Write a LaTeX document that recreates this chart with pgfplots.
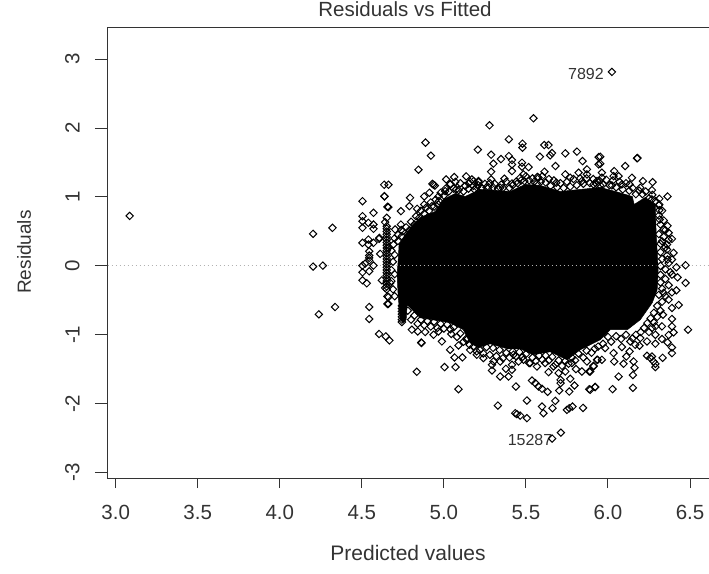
\documentclass[border=0pt]{standalone}
\usepackage{pgfplots}
\pgfplotsset{compat=1.18}
\usepackage{fontspec}
\setmainfont{Liberation Sans}
\definecolor{ink}{gray}{0.2}
\begin{document}
\begin{tikzpicture}[x=1pt,y=1pt]
\path[use as bounding box] (0,0) rectangle (709,573);
\begin{axis}[
  at={(107.5pt,94.3pt)},anchor=south west,
  scale only axis,width=603.5pt,height=451.2pt,
  xmin=2.9500,xmax=6.628,ymin=-3.087,ymax=3.458,
  clip=false,
  axis line style={ink,line width=1pt},
  tick style={ink,line width=1pt},
  tick align=outside,
  xtick={3,3.5,4,4.5,5,5.5,6,6.5},
  xticklabels={3.0,3.5,4.0,4.5,5.0,5.5,6.0,6.5},
  ytick={-3,-2,-1,0,1,2,3},
  yticklabels={-3,-2,-1,0,1,2,3},
  xtick pos=bottom,ytick pos=left,
  x tick style={/pgfplots/major tick length=9.5pt},
  y tick style={/pgfplots/major tick length=12.7pt},
  tick label style={font=\fontsize{20.5}{21}\selectfont,text=ink},
  xticklabel style={yshift=-19pt},
  yticklabel style={rotate=90,anchor=south,yshift=20pt},
  title={Residuals vs Fitted},
  title style={at={(axis description cs:0.493,1.0277)},anchor=center,font=\fontsize{20.5}{21}\selectfont,text=ink},
  xlabel={Predicted values},
  xlabel style={at={(axis description cs:0.498,-0.1647)},anchor=center,font=\fontsize{21}{22}\selectfont,text=ink},
  ylabel={Residuals},
  ylabel style={at={(axis description cs:-0.1384,0.5024)},anchor=center,rotate=0,font=\fontsize{19}{20}\selectfont,text=ink},
]
% dense core of the cloud
\addplot[fill=black,draw=black,line width=0.5pt] coordinates {
(4.721,.063)(4.727,.310)(4.764,.455)(4.813,.600)(4.855,.702)(4.947,.789)(4.996,.964)(5.069,1.051)(5.130,1.007)(5.221,1.109)(5.313,1.094)(5.404,1.080)(5.496,1.182)(5.587,1.167)(5.709,1.080)(5.831,1.109)(5.953,1.138)(6.045,1.080)(6.148,1.007)(6.160,.891)(6.227,.993)(6.288,.891)(6.294,.455)(6.306,-.054)(6.300,-.345)(6.270,-.534)(6.197,-.781)(6.118,-.926)(6.014,-.926)(5.953,-1.071)(5.831,-1.217)(5.751,-1.362)(5.648,-1.246)(5.544,-1.289)(5.465,-1.202)(5.386,-1.202)(5.282,-1.130)(5.209,-1.187)(5.160,-1.115)(5.118,-.926)(5.038,-.824)(4.855,-.752)(4.776,-.562)(4.770,-.781)(4.752,-.824)(4.734,-.781)(4.721,-.417)(4.715,-.126)
} -- cycle;
% individually visible points
\addplot[only marks,mark=square,mark size=2.6pt,mark options={rotate=45,line width=1pt,black}] coordinates {
(3.085,.725)(4.203,.465)(4.321,.552)(4.203,-.01)(4.262,.004)(4.337,-.596)(4.238,-.703)
(4.504,.939)(4.571,.770)(4.638,1.012)(4.504,.721)(4.504,.648)(4.504,.552)(4.540,.625)(4.571,.600)(4.571,.538)(4.504,.334)(4.540,.382)(4.540,.310)(4.571,.334)(4.605,.392)(4.545,.212)(4.545,.116)(4.545,.15)(4.545,.08)(4.571,.004)(4.504,.004)(4.52,.033)(4.504,-.093)(4.545,-.078)(4.504,-.209)(4.530,-.253)(4.545,-.596)(4.545,-.770)(4.605,-.988)(4.646,-1.023)(4.668,-1.081)
(4.656,.857)(4.652,.698)(4.642,.634)(4.612,.174)(4.622,-.209)(4.656,-.442)(4.656,-.552)
(4.652,.575)(4.652,.54)(4.652,.5)(4.652,.46)(4.652,.42)(4.652,.38)(4.652,.34)(4.652,.30)(4.652,.26)(4.652,.22)(4.652,.18)(4.652,.14)(4.652,.10)(4.652,.06)(4.652,.02)(4.652,-.02)(4.652,-.06)(4.652,-.10)(4.652,-.14)(4.652,-.18)(4.652,-.22)(4.652,-.26)(4.652,-.30)(4.652,-.34)
(4.888,1.788)(4.921,1.599)(4.845,1.395)(5.207,1.686)(4.636,1.177)(4.662,1.177)(4.638,1.007)(4.662,.852)(4.794,.988)(4.937,1.177)(4.93,1.19)(4.945,1.165)(4.880,1.007)(4.912,1.061)(4.967,1.007)(4.790,.866)(4.738,.794)(4.837,.828)(4.880,.891)(4.927,.866)(4.967,.891)(5.014,1.254)(5.063,1.288)(5.038,1.182)(5.136,1.298)(5.171,1.254)(5.152,1.196)(5.211,1.230)(5.008,1.084)(5.075,1.109)(5.185,1.109)
(5.546,2.141)(5.278,2.039)(5.396,1.836)(5.479,1.773)(5.479,1.715)(5.612,1.753)(5.638,1.753)(5.288,1.613)(5.396,1.593)(5.348,1.549)(5.415,1.535)(5.415,1.472)(5.302,1.483)(5.585,1.584)(5.648,1.603)(5.659,1.637)(5.740,1.632)(5.811,1.657)(5.845,1.520)(5.476,1.497)(5.476,1.439)(5.516,1.433)(5.680,1.448)(5.288,1.366)(5.415,1.375)(5.613,1.366)(5.872,1.400)(5.943,1.579)(5.943,1.472)(5.288,1.254)(5.369,1.265)(5.211,1.215)(5.465,1.279)(5.485,1.327)(5.577,1.279)(5.740,1.327)(5.821,1.352)(5.770,1.279)(5.872,1.327)(5.272,1.142)(5.343,1.134)(5.415,1.196)(5.685,1.206)(5.567,1.196)(5.841,1.230)(5.933,1.230)(5.181,1.230)
(6.024,2.814)(6.177,1.560)(5.953,1.584)(5.953,1.483)(6.105,1.448)(6.180,1.564)(6.038,1.375)(5.963,1.352)(5.963,1.279)(6.034,1.302)(6.065,1.302)(6.146,1.279)(6.213,1.230)(6.272,1.215)(6.197,1.134)(6.268,1.099)(6.132,1.182)(6.085,1.182)(6.024,1.167)(5.953,1.167)(5.912,1.182)(6.363,1.007)(6.313,.974)(6.313,.891)(6.313,.808)(6.268,.964)(6.315,.673)(6.363,.581)(6.370,.480)(6.390,.392)(6.360,.310)(6.400,.189)(6.363,.092)(6.417,-.020)(6.473,.009)(6.360,.237)(6.390,.092)(6.329,.358)(6.339,.528)(6.390,-.126)(6.424,-.166)
(6.473,-.247)(6.417,-.355)(6.390,-.384)(6.339,-.392)(6.370,-.490)(6.431,-.567)(6.390,-.610)(6.335,-.708)(6.390,-.770)(6.390,-.878)(6.488,-.926)(6.400,-.965)(6.370,-1.003)(6.329,-.878)(6.289,-.878)(6.329,-1.061)(6.289,-.999)(6.363,-1.110)(6.390,-1.183)(6.390,-1.265)(6.333,-1.333)(6.289,-1.129)(6.238,-1.304)(6.258,-1.337)(6.278,-1.387)(6.289,-1.468)(6.268,-1.314)(6.289,-1.420)(6.156,-1.387)(6.162,-1.477)(6.095,-1.420)(6.112,-1.314)(6.132,-1.241)(6.038,-1.387)(6.065,-1.605)(6.152,-1.584)(6.152,-1.769)(6.028,-1.788)(5.922,-1.759)(5.892,-1.798)(5.963,-1.362)(5.937,-1.362)(5.912,-1.449)(5.892,-1.532)(6.034,-1.265)(5.983,-1.192)(6.085,-1.177)(6.192,-1.158)(6.166,-1.144)(6.238,-1.096)(6.268,-.901)(6.197,-1.047)(6.136,-1.096)
(5.329,-2.026)(5.506,-1.953)(5.445,-2.151)(5.465,-2.172)(5.435,-2.137)(5.506,-2.209)(5.439,-1.750)(5.598,-2.041)(5.607,-2.137)(5.662,-2.064)(5.679,-1.958)(5.750,-2.089)(5.764,-2.064)(5.784,-2.041)(5.848,-2.060)(5.537,-1.663)(5.557,-1.701)(5.577,-1.750)(5.598,-1.783)(5.632,-1.827)(5.703,-1.808)(5.764,-1.823)(5.796,-1.735)(5.770,-1.638)(5.711,-1.701)(5.711,-1.653)(5.886,-1.788)(5.922,-1.754)(5.343,-1.605)(5.394,-1.605)(5.293,-1.517)(5.378,-1.493)(5.415,-1.507)(5.415,-1.435)(5.293,-1.435)(5.343,-1.387)(5.241,-1.337)(5.201,-1.289)(5.567,-1.459)(5.638,-1.541)(5.699,-1.555)(5.740,-1.532)(5.805,-1.497)(5.841,-1.532)(5.886,-1.532)(5.912,-1.459)(5.933,-1.362)(5.485,-1.362)(5.455,-1.387)(5.424,-1.289)(5.302,-1.387)(5.617,-1.410)(5.668,-1.459)(5.526,-1.410)(5.780,-1.410)(5.872,-1.387)
(5.713,-2.419)(5.660,-2.505)(4.835,-1.536)(5.004,-1.468)(5.071,-1.468)(5.113,-1.328)(5.065,-1.328)(5.038,-1.217)(5.089,-1.788)(4.864,-1.119)(4.988,-1.096)(5.089,-1.154)
(4.662,-.451)(4.662,-.552)(4.744,-.814)(4.744,-.78)(4.744,-.74)(4.744,-.70)(4.744,-.66)(4.744,-.62)(4.744,-.58)(4.805,-.926)(4.841,-.951)(4.886,-.959)(4.862,-1.110)(4.937,-.999)(4.967,-.951)(5.045,-.988)(5.156,-1.144)(5.140,-1.071)
(4.738,.600)(4.744,.430)(4.703,.528)(4.607,.407)(4.693,.310)(4.662,.262)(4.642,-.320)(4.673,-.247)
% dense fringe, top
(4.75,.50)(4.77,.56)(4.79,.52)(4.80,.64)(4.82,.60)(4.83,.72)(4.85,.70)(4.86,.80)(4.88,.76)(4.89,.84)(4.91,.80)(4.92,.92)(4.94,.86)(4.95,.96)(4.97,.94)(4.98,1.06)(5.00,1.02)(5.01,1.12)(5.03,1.08)(5.04,1.19)(5.06,1.12)(5.07,1.22)(5.09,1.10)(5.10,1.20)(5.12,1.08)(5.13,1.16)(5.15,1.12)(5.16,1.22)(5.18,1.16)(5.20,1.14)(5.21,1.17)(5.23,1.13)(5.25,1.19)(5.26,1.14)(5.28,1.20)(5.30,1.14)(5.31,1.19)(5.33,1.12)(5.35,1.18)(5.36,1.13)(5.38,1.22)(5.40,1.13)(5.42,1.17)(5.44,1.22)(5.45,1.20)(5.47,1.24)(5.49,1.23)(5.50,1.30)(5.52,1.24)(5.54,1.27)(5.55,1.22)(5.57,1.29)(5.59,1.22)(5.60,1.30)(5.62,1.21)(5.64,1.26)(5.65,1.16)(5.67,1.24)(5.69,1.14)(5.71,1.20)(5.73,1.13)(5.75,1.22)(5.77,1.15)(5.79,1.26)(5.81,1.17)(5.83,1.27)(5.85,1.19)(5.87,1.27)(5.89,1.20)(5.91,1.26)(5.93,1.19)(5.95,1.23)(5.97,1.18)(5.99,1.25)(6.01,1.17)(6.03,1.24)(6.05,1.14)(6.07,1.22)(6.09,1.11)(6.11,1.20)(6.13,1.09)(6.15,1.13)(6.17,1.04)(6.19,1.09)(6.21,1.04)(6.23,1.08)(6.25,.98)(6.27,1.03)(6.29,.94)
% dense fringe, right
(6.31,.88)(6.33,.80)(6.31,.73)(6.34,.66)(6.32,.60)(6.35,.52)(6.31,.46)(6.34,.42)(6.37,.38)(6.32,.32)(6.35,.27)(6.32,.20)(6.36,.15)(6.33,.10)(6.37,.04)(6.32,.0)(6.35,-.05)(6.38,-.09)(6.32,-.13)(6.35,-.19)(6.32,-.24)(6.37,-.28)(6.33,-.33)(6.35,-.44)(6.31,-.42)(6.33,-.52)(6.30,-.58)(6.32,-.65)(6.28,-.68)(6.30,-.74)(6.26,-.76)(6.28,-.82)(6.24,-.83)(6.22,-.90)(6.25,-.96)(6.20,-.96)(6.17,-1.0)(6.15,-1.05)(6.11,-1.0)(6.08,-1.06)(6.05,-1.02)(6.02,-1.1)(6.0,-1.03)(5.97,-1.13)(5.94,-1.17)
% dense fringe, bottom
(5.92,-1.2)(5.90,-1.26)(5.87,-1.23)(5.85,-1.33)(5.82,-1.27)(5.80,-1.37)(5.78,-1.33)(5.76,-1.42)(5.74,-1.38)(5.72,-1.45)(5.70,-1.37)(5.68,-1.43)(5.66,-1.32)(5.64,-1.37)(5.62,-1.30)(5.60,-1.36)(5.58,-1.30)(5.56,-1.38)(5.54,-1.33)(5.52,-1.41)(5.50,-1.28)(5.48,-1.32)(5.46,-1.25)(5.44,-1.31)(5.42,-1.24)(5.40,-1.33)(5.38,-1.26)(5.36,-1.34)(5.34,-1.22)(5.32,-1.31)(5.30,-1.19)(5.28,-1.29)(5.26,-1.18)(5.24,-1.27)(5.22,-1.22)(5.20,-1.24)(5.18,-1.17)(5.16,-1.22)(5.14,-1.05)(5.12,-1.10)(5.10,-.98)(5.08,-1.03)(5.06,-.89)(5.04,-.92)(5.02,-.85)(5.00,-.91)(4.98,-.84)(4.96,-.90)(4.94,-.81)(4.92,-.88)(4.90,-.80)(4.88,-.86)(4.86,-.78)(4.84,-.84)(4.82,-.72)(4.80,-.78)(4.78,-.65)
% dense fringe, left
(4.70,.40)(4.72,.36)(4.68,.22)(4.70,.16)(4.69,.06)(4.68,-.06)(4.70,-.12)(4.68,-.22)(4.69,-.34)(4.70,-.44)(4.72,.45)(4.74,.52)
};
\addplot[gray!60,line width=0.8pt,dash pattern=on 1pt off 3pt] coordinates {(2.95,0)(6.628,0)};
\node[anchor=east,font=\fontsize{16}{16}\selectfont,text=ink] at (axis cs:5.996,2.79) {7892};
\node[anchor=east,font=\fontsize{16}{16}\selectfont,text=ink] at (axis cs:5.682,-2.525) {15287};
\end{axis}
\end{tikzpicture}
\end{document}
